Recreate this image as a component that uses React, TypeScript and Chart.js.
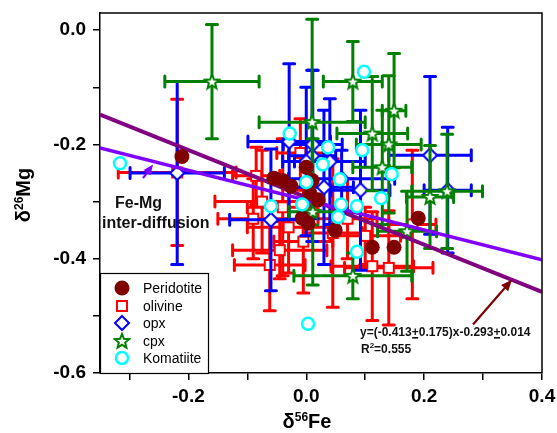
import React, { useEffect, useRef } from 'react';
import { Chart, registerables } from 'chart.js';

Chart.register(...registerables);

// ---- axes ----
const xMin = -0.35;
const xMax = 0.4;
const yMin = -0.6;
const yMax = 0.03;
const xTickValues = [-0.3, -0.2, -0.1, 0.0, 0.1, 0.2, 0.3, 0.4];
const xTickLabels = ['', '-0.2', '', '0.0', '', '0.2', '', '0.4'];
const yTickValues = [-0.6, -0.5, -0.4, -0.3, -0.2, -0.1, 0.0];
const yTickLabels = ['-0.6', '', '-0.4', '', '-0.2', '', '0.0'];

// ---- Peridotite (no error bars) ----
const peridotiteX = [-0.211, -0.055, -0.040, -0.026, 0.0, 0.010, 0.006, 0.020, -0.007, 0.003, 0.049, 0.190, 0.112, 0.149];
const peridotiteY = [-0.221, -0.259, -0.263, -0.273, -0.240, -0.263, -0.285, -0.297, -0.329, -0.338, -0.350, -0.329, -0.380, -0.380];

// ---- olivine ----
const olivineX = [-0.219, -0.062, 0.112, 0.140, -0.075, -0.090, -0.040, -0.030, -0.005, -0.045, 0.045, 0.180, -0.010, 0.070, -0.085, 0.100];
const olivineY = [-0.249, -0.411, -0.413, -0.416, -0.300, -0.330, -0.310, -0.345, -0.370, -0.385, -0.355, -0.340, -0.215, -0.330, -0.255, -0.360];
const olivineXErr = [0.100, 0.060, 0.070, 0.075, 0.080, 0.060, 0.060, 0.070, 0.050, 0.080, 0.050, 0.040, 0.040, 0.050, 0.040, 0.060];
const olivineYErr = [0.128, 0.080, 0.095, 0.100, 0.090, 0.070, 0.120, 0.080, 0.090, 0.050, 0.130, 0.130, 0.060, 0.070, 0.050, 0.050];

// ---- opx ----
const opxX = [-0.219, -0.060, -0.029, 0.210, 0.240, 0.011, 0.010, 0.040, 0.030, 0.092, 0.000, 0.060];
const opxY = [-0.250, -0.332, -0.195, -0.219, -0.280, -0.200, -0.220, -0.230, -0.275, -0.280, -0.230, -0.260];
const opxXErr = [0.080, 0.070, 0.070, 0.070, 0.040, 0.050, 0.040, 0.060, 0.050, 0.050, 0.040, 0.090];
const opxYErr = [0.160, 0.124, 0.136, 0.138, 0.110, 0.130, 0.150, 0.110, 0.135, 0.140, 0.130, 0.050];

// ---- cpx ----
const cpxX = [-0.160, 0.010, 0.079, 0.149, 0.112, 0.140, 0.129, 0.210, 0.239, 0.171, 0.079, 0.011];
const cpxY = [-0.090, -0.161, -0.090, -0.141, -0.181, -0.200, -0.240, -0.292, -0.282, -0.352, -0.430, -0.318];
const cpxXErr = [0.080, 0.090, 0.050, 0.020, 0.060, 0.055, 0.050, 0.040, 0.060, 0.050, 0.100, 0.040];
const cpxYErr = [0.100, 0.180, 0.070, 0.100, 0.100, 0.120, 0.100, 0.090, 0.100, 0.070, 0.040, 0.128];

// ---- Komatiite (no error bars) ----
const komatiiteX = [-0.316, -0.028, 0.098, 0.037, 0.095, 0.028, 0.057, 0.145, 0.000, 0.127, 0.059, 0.086, 0.054, -0.060, -0.007, 0.086, 0.003];
const komatiiteY = [-0.233, -0.181, -0.073, -0.205, -0.210, -0.235, -0.261, -0.252, -0.266, -0.294, -0.305, -0.308, -0.327, -0.308, -0.305, -0.388, -0.514];

// ---- lines ----
const fitLineX = [-0.35, 0.4];
const fitLineY = [-0.148, -0.458];
const diffusionLineX = [-0.35, 0.4];
const diffusionLineY = [-0.206, -0.402];

// ---- annotations (data coords) ----
const eqArrow = [0.283, -0.515, 0.349, -0.437];
const diffArrow = [-0.277, -0.259, -0.260, -0.235];

const FONT = '"Liberation Sans", Arial, Helvetica, sans-serif';
const RED = '#ff0000';
const BLUE = '#0000ff';
const GREEN = '#008000';
const CYAN = '#00ffff';
const MAROON = '#800000';

const pts = (xs: number[], ys: number[]) => xs.map((x, i) => ({ x, y: ys[i] }));

function makeSquare() {
  const c = document.createElement('canvas');
  c.width = 14; c.height = 14;
  const g = c.getContext('2d')!;
  g.fillStyle = '#fff'; g.strokeStyle = RED; g.lineWidth = 2;
  g.fillRect(2, 2, 10, 10); g.strokeRect(2, 2, 10, 10);
  return c;
}
function makeDiamond() {
  const c = document.createElement('canvas');
  c.width = 18; c.height = 18;
  const g = c.getContext('2d')!;
  g.fillStyle = '#fff'; g.strokeStyle = BLUE; g.lineWidth = 2;
  g.beginPath(); g.moveTo(9, 2); g.lineTo(16, 9); g.lineTo(9, 16); g.lineTo(2, 9); g.closePath();
  g.fill(); g.stroke();
  return c;
}
function makeStar() {
  const c = document.createElement('canvas');
  c.width = 18; c.height = 18;
  const g = c.getContext('2d')!;
  g.fillStyle = '#fff'; g.strokeStyle = GREEN; g.lineWidth = 2;
  g.lineJoin = 'miter';
  g.beginPath();
  for (let i = 0; i < 10; i++) {
    const r = i % 2 === 0 ? 7.5 : 3.3;
    const a = -Math.PI / 2 + (i * Math.PI) / 5;
    const px = 9 + r * Math.cos(a), py = 9.5 + r * Math.sin(a);
    if (i === 0) g.moveTo(px, py); else g.lineTo(px, py);
  }
  g.closePath(); g.fill(); g.stroke();
  return c;
}

export default function App() {
  const ref = useRef<HTMLCanvasElement | null>(null);

  useEffect(() => {
    const canvas = ref.current!;
    const squareImg = makeSquare();
    const diamondImg = makeDiamond();
    const starImg = makeStar();

    const errorBars = {
      id: 'errorBars',
      beforeDatasetDraw(chart: any, args: any) {
        const ds: any = chart.data.datasets[args.index];
        if (!ds || !ds.xErr) return;
        const ctx = chart.ctx;
        const xs = chart.scales.x, ys = chart.scales.y;
        ctx.save();
        ctx.beginPath();
        ctx.rect(chart.chartArea.left, chart.chartArea.top, chart.chartArea.right - chart.chartArea.left, chart.chartArea.bottom - chart.chartArea.top);
        ctx.clip();
        ctx.lineWidth = 3;
        ctx.lineCap = 'round';
        const cap = 5.5;
        ctx.strokeStyle = ds.barColor;
        ds.data.forEach((p: any, i: number) => {
          const cx = xs.getPixelForValue(p.x), cy = ys.getPixelForValue(p.y);
          const x1 = xs.getPixelForValue(p.x - ds.xErr[i]), x2 = xs.getPixelForValue(p.x + ds.xErr[i]);
          const y1 = ys.getPixelForValue(p.y + ds.yErr[i]), y2 = ys.getPixelForValue(p.y - ds.yErr[i]);
          ctx.beginPath();
          ctx.moveTo(x1, cy); ctx.lineTo(x2, cy);
          ctx.moveTo(x1, cy - cap); ctx.lineTo(x1, cy + cap);
          ctx.moveTo(x2, cy - cap); ctx.lineTo(x2, cy + cap);
          ctx.moveTo(cx, y1); ctx.lineTo(cx, y2);
          ctx.moveTo(cx - cap, y1); ctx.lineTo(cx + cap, y1);
          ctx.moveTo(cx - cap, y2); ctx.lineTo(cx + cap, y2);
          ctx.stroke();
        });
        ctx.restore();
      },
    };

    const arrow = (ctx: any, x1: number, y1: number, x2: number, y2: number, color: string, lw: number, hl: number) => {
      const a = Math.atan2(y2 - y1, x2 - x1);
      ctx.save();
      ctx.strokeStyle = color; ctx.fillStyle = color; ctx.lineWidth = lw;
      ctx.beginPath();
      ctx.moveTo(x1, y1);
      ctx.lineTo(x2 - (hl * 0.8) * Math.cos(a), y2 - (hl * 0.8) * Math.sin(a));
      ctx.stroke();
      ctx.beginPath();
      ctx.moveTo(x2, y2);
      ctx.lineTo(x2 - hl * Math.cos(a - 0.4), y2 - hl * Math.sin(a - 0.4));
      ctx.lineTo(x2 - hl * Math.cos(a + 0.4), y2 - hl * Math.sin(a + 0.4));
      ctx.closePath(); ctx.fill();
      ctx.restore();
    };

    const decorations = {
      id: 'decorations',
      afterDraw(chart: any) {
        const ctx = chart.ctx;
        const { left, right, top, bottom } = chart.chartArea;
        const xs = chart.scales.x, ys = chart.scales.y;
        const px = (v: number) => xs.getPixelForValue(v);
        const py = (v: number) => ys.getPixelForValue(v);
        ctx.save();
        ctx.strokeStyle = '#000'; ctx.lineWidth = 1.5;
        ctx.beginPath();
        ctx.moveTo(left, top); ctx.lineTo(right, top); ctx.lineTo(right, bottom);
        ctx.stroke();

        arrow(ctx, px(diffArrow[0]), py(diffArrow[1]), px(diffArrow[2]), py(diffArrow[3]), '#8000ff', 2.2, 11);
        arrow(ctx, px(eqArrow[0]), py(eqArrow[1]), px(eqArrow[2]), py(eqArrow[3]), MAROON, 2.2, 12);

        ctx.fillStyle = '#111';
        ctx.textBaseline = 'alphabetic';
        ctx.textAlign = 'left';
        ctx.font = `bold 16px ${FONT}`;
        ctx.fillText('Fe-Mg', 115, 208);
        ctx.fillText('inter-diffusion', 102, 228);

        ctx.font = `bold 12px ${FONT}`;
        let x = 360; const yb = 336;
        const segs = ['y=(-0.413', '+', '0.175)x-0.293', '+', '0.014'];
        segs.forEach((s) => {
          const w = ctx.measureText(s).width;
          ctx.fillText(s, x, yb);
          if (s === '+') {
            ctx.fillRect(x + 0.5, yb + 1, w - 1, 1.6);
          }
          x += w;
        });
        x = 361; const yb2 = 353;
        ctx.fillText('R', x, yb2); x += ctx.measureText('R').width;
        ctx.font = `bold 8px ${FONT}`;
        ctx.fillText('2', x, yb2 - 5); x += ctx.measureText('2').width;
        ctx.font = `bold 12px ${FONT}`;
        ctx.fillText('=0.555', x, yb2);

        const drawTitle = (main1: string, sup: string, main2: string) => {
          ctx.font = `bold 20px ${FONT}`;
          const w1 = ctx.measureText(main1).width;
          const w3 = ctx.measureText(main2).width;
          ctx.font = `bold 12px ${FONT}`;
          const w2 = ctx.measureText(sup).width;
          const total = w1 + w2 + w3;
          let cx = -total / 2;
          ctx.font = `bold 20px ${FONT}`;
          ctx.fillText(main1, cx, 0); cx += w1;
          ctx.font = `bold 12px ${FONT}`;
          ctx.fillText(sup, cx, -7); cx += w2;
          ctx.font = `bold 20px ${FONT}`;
          ctx.fillText(main2, cx, 0);
        };
        ctx.fillStyle = '#000';
        ctx.save();
        ctx.translate(307, 428);
        drawTitle('\u03b4', '56', 'Fe');
        ctx.restore();
        ctx.save();
        ctx.translate(30, 195);
        ctx.rotate(-Math.PI / 2);
        drawTitle('\u03b4', '26', 'Mg');
        ctx.restore();

        const lx = 100, ly = 273, lw = 108, lh = 100;
        ctx.fillStyle = '#fff';
        ctx.fillRect(lx, ly, lw, lh);
        ctx.strokeStyle = '#000'; ctx.lineWidth = 1.2;
        ctx.strokeRect(lx + 0.5, ly + 0.5, lw, lh);
        const rows = [288, 306, 323, 341, 358];
        const labels = ['Peridotite', 'olivine', 'opx', 'cpx', 'Komatiite'];
        const mx = 122;
        ctx.fillStyle = MAROON;
        ctx.beginPath(); ctx.arc(mx, rows[0], 7.5, 0, Math.PI * 2); ctx.fill();
        ctx.drawImage(squareImg, mx - 7, rows[1] - 7);
        ctx.drawImage(diamondImg, mx - 9, rows[2] - 9);
        ctx.drawImage(starImg, mx - 9, rows[3] - 9);
        ctx.strokeStyle = CYAN; ctx.lineWidth = 2.5; ctx.fillStyle = '#fff';
        ctx.beginPath(); ctx.arc(mx, rows[4], 6, 0, Math.PI * 2); ctx.fill(); ctx.stroke();
        ctx.fillStyle = '#000';
        ctx.font = `14px ${FONT}`;
        ctx.textBaseline = 'middle';
        labels.forEach((t, i) => ctx.fillText(t, 143, rows[i] + 1));
        ctx.restore();
      },
    };

    const gridCfg = { display: true, drawOnChartArea: false, drawTicks: true, tickLength: 7, color: '#000', lineWidth: 1.5 };
    const borderCfg = { display: true, color: '#000', width: 1.5 };

    const chart = new Chart(canvas, {
      type: 'scatter',
      data: {
        datasets: [
          { label: 'olivine', data: pts(olivineX, olivineY), xErr: olivineXErr, yErr: olivineYErr, barColor: RED, pointStyle: squareImg, order: 10 } as any,
          { label: 'opx', data: pts(opxX, opxY), xErr: opxXErr, yErr: opxYErr, barColor: BLUE, pointStyle: diamondImg, order: 9 } as any,
          { label: 'cpx', data: pts(cpxX, cpxY), xErr: cpxXErr, yErr: cpxYErr, barColor: GREEN, pointStyle: starImg, order: 8 } as any,
          { type: 'line', label: 'fit', data: pts(fitLineX, fitLineY), borderColor: '#800080', borderWidth: 4, pointRadius: 0, fill: false, order: 7 } as any,
          { type: 'line', label: 'diffusion', data: pts(diffusionLineX, diffusionLineY), borderColor: '#8000ff', borderWidth: 3.5, pointRadius: 0, fill: false, order: 6 } as any,
          { label: 'Peridotite', data: pts(peridotiteX, peridotiteY), pointStyle: 'circle', pointRadius: 7.5, backgroundColor: MAROON, borderColor: MAROON, borderWidth: 0, order: 5 } as any,
          { label: 'Komatiite', data: pts(komatiiteX, komatiiteY), pointStyle: 'circle', pointRadius: 6, backgroundColor: '#fff', borderColor: CYAN, borderWidth: 2.5, order: 4 } as any,
        ],
      },
      options: {
        animation: false,
        responsive: true,
        maintainAspectRatio: false,
        layout: { padding: { top: 13, right: 15, left: 0, bottom: 0 } },
        plugins: { legend: { display: false }, tooltip: { enabled: false } },
        scales: {
          x: {
            type: 'linear', min: xMin, max: xMax,
            afterBuildTicks: (s: any) => { s.ticks = xTickValues.map((v) => ({ value: v })); },
            afterFit: (s: any) => { s.height = 60; s.paddingLeft = 0; s.paddingRight = 0; s.paddingTop = 0; s.paddingBottom = 0; },
            ticks: {
              callback: (_v: any, i: number) => xTickLabels[i],
              font: { family: FONT, size: 19, weight: 'bold' }, color: '#000', padding: 5, maxRotation: 0, autoSkip: false,
            },
            grid: gridCfg, border: borderCfg,
          },
          y: {
            type: 'linear', min: yMin, max: yMax,
            afterBuildTicks: (s: any) => { s.ticks = yTickValues.map((v) => ({ value: v })); },
            afterFit: (s: any) => { s.width = 100; s.paddingLeft = 0; s.paddingRight = 0; s.paddingTop = 0; s.paddingBottom = 0; },
            ticks: {
              callback: (_v: any, i: number) => yTickLabels[i],
              font: { family: FONT, size: 19, weight: 'bold' }, color: '#000', padding: 7, autoSkip: false,
            },
            grid: gridCfg, border: borderCfg,
          },
        },
      } as any,
      plugins: [errorBars, decorations],
    });
    return () => chart.destroy();
  }, []);

  return (
    <div style={{ position: 'fixed', left: 0, top: 0, width: 557, height: 433, background: '#fff' }}>
      <canvas ref={ref} />
    </div>
  );
}
